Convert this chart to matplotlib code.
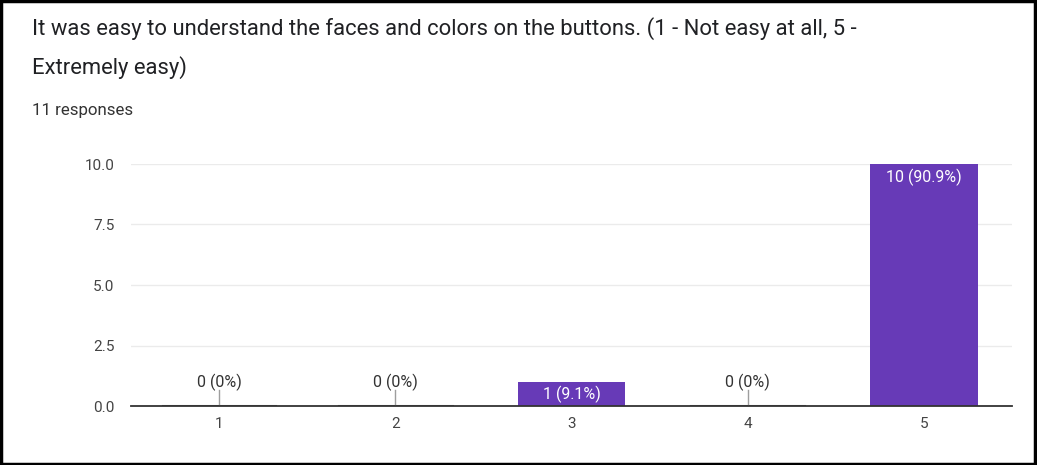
import matplotlib
matplotlib.use("Agg")
import matplotlib.pyplot as plt
from matplotlib.patches import Rectangle

# chart data
categories = ["1", "2", "3", "4", "5"]
counts = [0, 0, 1, 0, 10]
percents = ["0%", "0%", "9.1%", "0%", "90.9%"]
y_ticks = [0.0, 2.5, 5.0, 7.5, 10.0]

title_line1 = "It was easy to understand the faces and colors on the buttons. (1 - Not easy at all, 5 -"
title_line2 = "Extremely easy)"
subtitle = "11 responses"

plt.rcParams['font.family'] = ['Roboto', 'DejaVu Sans']

W, H = 1037, 465
fig = plt.figure(figsize=(W / 100, H / 100), dpi=100)
fig.patch.set_facecolor("white")

# axes placed in pixel coords: left 131, right 1012, top 164, bottom 406
ax = fig.add_axes([131 / W, 1 - 406 / H, (1012 - 131) / W, (406 - 164) / H])

bar_color = "#673ab7"
x = list(range(1, len(categories) + 1))
ax.bar(x, counts, width=0.61, color=bar_color, zorder=3)

for xi, c, p in zip(x, counts, percents):
    label = f"{c} ({p})"
    if c == 0:
        # flat zero bar plus small leader line
        ax.plot([xi - 0.32, xi + 0.32], [0, 0], color="#555555", lw=2.2, zorder=4)
        ax.plot([xi, xi], [0, 0.68], color="#9e9e9e", lw=1, zorder=4)
        ax.text(xi, 0.62, label, ha="center", va="bottom", fontsize=11.5, color="#333333")
    else:
        ax.text(xi, c - 0.18, label, ha="center", va="top", fontsize=11.5, color="white")

ax.set_xlim(0.5, 5.5)
ax.set_ylim(0, 10)
ax.set_yticks(y_ticks)
ax.set_yticklabels([f"{v:.1f}" for v in y_ticks])
ax.set_xticks(x)
ax.set_xticklabels(categories)
ax.tick_params(axis="both", length=0, labelsize=11, labelcolor="#444444")
ax.tick_params(axis="y", pad=12)
ax.tick_params(axis="x", pad=8)
ax.grid(axis="y", color="#ebebeb", lw=1, zorder=0)
for s in ["top", "right", "left"]:
    ax.spines[s].set_visible(False)
ax.spines["bottom"].set_color("#333333")
ax.spines["bottom"].set_linewidth(1.3)
ax.spines["bottom"].set_zorder(5)

# header text
fig.text(32 / W, 1 - 29 / H, title_line1, ha="left", va="center", fontsize=15.8, color="#202124")
fig.text(32 / W, 1 - 68 / H, title_line2, ha="left", va="center", fontsize=15.8, color="#202124")
fig.text(32 / W, 1 - 110 / H, subtitle, ha="left", va="center", fontsize=12.2, color="#333333")

# black frame around the screenshot
fig.patches.append(Rectangle((0.001, 0.002), 0.997, 0.995, transform=fig.transFigure,
                             fill=False, edgecolor="black", lw=2.5))

fig.savefig("out.png", dpi=100)
